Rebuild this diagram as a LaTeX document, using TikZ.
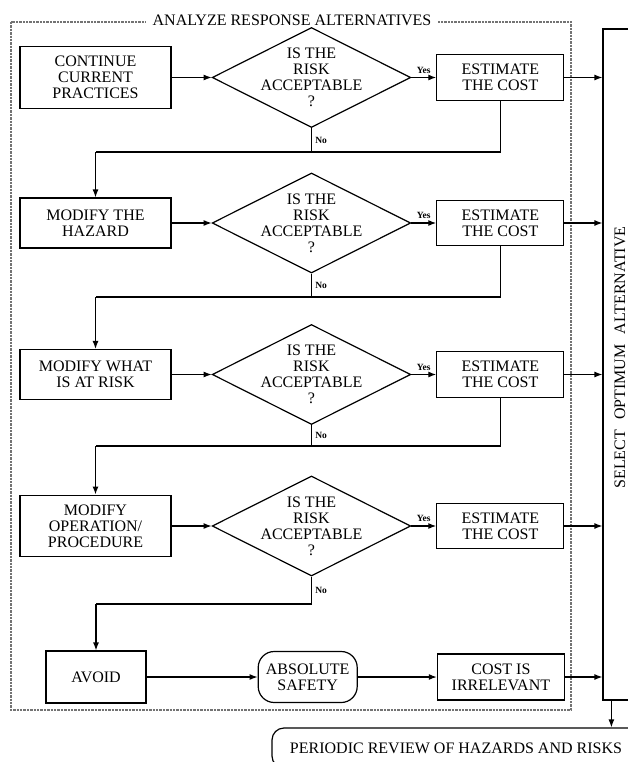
\documentclass[tikz,border=0pt]{standalone}
\usepackage{fontspec}
\setmainfont{Liberation Serif}
\usepackage{graphicx}
\usepackage{tikz}
\usetikzlibrary{shapes, arrows, arrows.meta, positioning}

\begin{document}
\begin{tikzpicture}[
    x=1pt, y=-1pt,
    node distance = 40pt,
    font=\fontsize{16}{16}\selectfont,
    % boxes for the alternatives
    block/.style={
        rectangle,
        draw,
        line width=1.2pt,
        align=center,
        minimum width=151pt,
        minimum height=50pt,
        inner xsep=4pt,
        inner ysep=9.5pt
    },
    costbox/.style={block, minimum width=127pt, minimum height=45pt},
    safebox/.style={block, rounded corners=16pt, minimum width=99pt, minimum height=51pt},
    decision/.style={
        diamond,
        draw,
        line width=1.2pt,
        align=center,
        shape aspect=2,
        inner sep=-3.5pt,
        minimum width=196pt,
        minimum height=100pt
    },
    frame/.style={draw=black!55, densely dotted, line width=2.4pt},
    line/.style={draw, -{Latex[length=8pt, width=6pt]}, line width=1.2pt},
    link/.style={draw, line width=1.2pt},
    yes/.style={above, font=\fontsize{9.5}{10}\selectfont\bfseries},
    no/.style={right, font=\fontsize{9.5}{10}\selectfont\bfseries}
]
    \useasboundingbox (0,0) rectangle (628,762);
    \clip (0,0) rectangle (628,762);

    % Frame
    \draw [frame] (11,22) rectangle (571,710);
    \node [fill=white, inner xsep=7pt, inner ysep=1pt] (title) at (292,20) {ANALYZE RESPONSE ALTERNATIVES};

    % Nodes
    \node [block] (cont) at (95.5,77.5) {CONTINUE\\CURRENT\\PRACTICES};
    \node [decision, right=of cont] (q1) {IS THE\\RISK\\ACCEPTABLE\\?};
    \node [costbox, right=25pt of q1] (est1) {ESTIMATE\\THE COST};

    \node [block] (hazard) at (95.5,223) {MODIFY THE\\HAZARD};
    \node [decision, right=of hazard] (q2) {IS THE\\RISK\\ACCEPTABLE\\?};
    \node [costbox, right=25pt of q2] (est2) {ESTIMATE\\THE COST};

    \node [block] (atrisk) at (95.5,374.5) {MODIFY WHAT\\IS AT RISK};
    \node [decision, right=of atrisk] (q3) {IS THE\\RISK\\ACCEPTABLE\\?};
    \node [costbox, right=25pt of q3] (est3) {ESTIMATE\\THE COST};

    \node [block] (oper) at (95.5,526) {MODIFY\\OPERATION/\\PROCEDURE};
    \node [decision, right=of oper] (q4) {IS THE\\RISK\\ACCEPTABLE\\?};
    \node [costbox, right=25pt of q4] (est4) {ESTIMATE\\THE COST};

    \node [block, minimum width=100pt, minimum height=52pt] (avoid) at (96,677) {AVOID};
    \node [safebox, right=111pt of avoid] (safety) {ABSOLUTE\\SAFETY};
    \node [costbox, right=79pt of safety] (irrel) {COST IS\\IRRELEVANT};

    \node [draw, line width=1.2pt, minimum width=34pt, minimum height=671pt, inner sep=0pt] (select) at (620,364.5)
        {\rotatebox{90}{\hspace{14pt}SELECT\hspace{10pt}OPTIMUM\hspace{10pt}ALTERNATIVE}};
    \node [draw, line width=1.2pt, rounded corners=12pt, minimum width=368pt, minimum height=40pt] (review) at (456,748)
        {PERIODIC REVIEW OF HAZARDS AND RISKS};

    % Paths (Arrows)
    \path [line] (cont) -- (q1);
    \path [line] (q1) -- node[yes] {Yes} (est1);
    \path [line] (est1) -- (est1 -| select.west);
    \coordinate (j1) at (hazard.north |- 0,152);
    \path [link] (q1) -- node[no] {No} (q1.south |- j1);
    \path [link] (est1) |- (j1);
    \path [line] (j1) -- (hazard);

    \path [line] (hazard) -- (q2);
    \path [line] (q2) -- node[yes] {Yes} (est2);
    \path [line] (est2) -- (est2 -| select.west);
    \coordinate (j2) at (atrisk.north |- 0,297);
    \path [link] (q2) -- node[no] {No} (q2.south |- j2);
    \path [link] (est2) |- (j2);
    \path [line] (j2) -- (atrisk);

    \path [line] (atrisk) -- (q3);
    \path [line] (q3) -- node[yes] {Yes} (est3);
    \path [line] (est3) -- (est3 -| select.west);
    \coordinate (j3) at (oper.north |- 0,446);
    \path [link] (q3) -- node[no] {No} (q3.south |- j3);
    \path [link] (est3) |- (j3);
    \path [line] (j3) -- (oper);

    \path [line] (oper) -- (q4);
    \path [line] (q4) -- node[yes] {Yes} (est4);
    \path [line] (est4) -- (est4 -| select.west);
    \coordinate (j4) at (avoid.north |- 0,604);
    \path [link] (q4) -- node[no] {No} (q4.south |- j4) -- (j4);
    \path [line] (j4) -- (avoid);

    \path [line] (avoid) -- (safety);
    \path [line] (safety) -- (irrel);
    \path [line] (irrel) -- (irrel -| select.west);

    \coordinate (s1) at ([xshift=9pt]select.south west);
    \path [line] (s1) -- (s1 |- review.north);
\end{tikzpicture}
\end{document}
